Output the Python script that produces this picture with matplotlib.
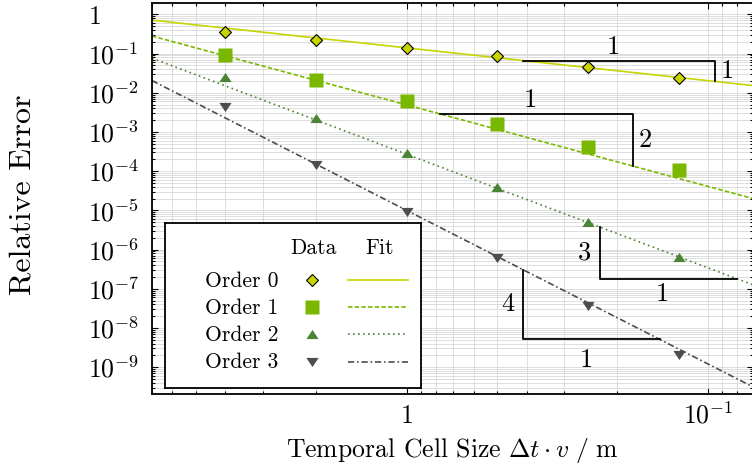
import numpy as np
import matplotlib
matplotlib.use('Agg')
import matplotlib.pyplot as plt
from matplotlib.ticker import LogLocator, FuncFormatter, NullFormatter

plt.rcParams['font.family'] = 'cmr10'
plt.rcParams['mathtext.fontset'] = 'cm'
plt.rcParams['axes.formatter.use_mathtext'] = True
plt.rcParams['lines.scale_dashes'] = False

# measured data
cell_size = [4, 2, 1, 0.5, 0.25, 0.125]
err_order0 = [0.347, 0.217, 0.141, 0.0863, 0.0453, 0.0237]
err_order1 = [0.090, 0.0207, 0.00614, 0.00159, 4.1e-4, 1.07e-4]
err_order2 = [0.0248, 2.26e-3, 2.93e-4, 3.9e-5, 4.97e-6, 6.4e-7]
err_order3 = [4.27e-3, 1.4e-4, 9.2e-6, 6.07e-7, 3.6e-8, 2.07e-9]
errors = [err_order0, err_order1, err_order2, err_order3]
names = ['Order 0', 'Order 1', 'Order 2', 'Order 3']

# power-law fits  err = coef * dx**rate
fit_coef = [0.140, 4.9e-3, 2.7e-4, 9.95e-6]
fit_rate = [0.838, 2.08, 2.90, 3.92]

# slope triangles (x extent) and the rate printed next to them
tri_x = [(0.41, 0.095), (0.776, 0.178), (0.229, 0.0805), (0.41, 0.145)]
tri_side = ['above', 'above', 'below', 'below']
tri_label = ['1', '2', '3', '4']
tri_pad = [10, 10, 11, 15]

xlim = (7.0, 0.071)
ylim = (2.06e-10, 1.92)

colors = ['#c8d400', '#7ab800', '#4a8434', '#4d4d4d']
up = [(0, 0.75), (-1, -0.75), (1, -0.75), (0, 0.75)]
down = [(0, -0.75), (-1, 0.75), (1, 0.75), (0, -0.75)]
markers = ['D', 's', up, down]
msizes = [6.4, 9.4, 8.8, 8.8]
medges = ['black', 'none', 'none', 'none']
lstyles = ['-', (0, (3.2, 1.6)), (0, (1.2, 2.4)), (0, (4.5, 2.0, 1.2, 2.0))]

W, H = 752, 469
fig = plt.figure(figsize=(W / 100, H / 100), dpi=100)
ax = fig.add_axes([152 / W, (H - 394) / H, (753 - 152) / W, (394 - 3.3) / H])
ax.set_xscale('log')
ax.set_yscale('log')
ax.set_xlim(*xlim)
ax.set_ylim(*ylim)

xf = np.geomspace(xlim[0], xlim[1], 50)
for k in range(4):
    ax.plot(xf, fit_coef[k] * xf ** fit_rate[k], color=colors[k], ls=lstyles[k],
            lw=1.2, zorder=2)
    ax.plot(cell_size, errors[k], ls='none', marker=markers[k], ms=msizes[k],
            mfc=colors[k], mec=medges[k], mew=0.8, zorder=3)

# slope triangles
for k in range(4):
    xa, xb = tri_x[k]
    ya = fit_coef[k] * xa ** fit_rate[k]
    yb = fit_coef[k] * xb ** fit_rate[k]
    xm = np.sqrt(xa * xb)
    ym = np.sqrt(ya * yb)
    if tri_side[k] == 'above':
        ax.plot([xa, xb, xb], [ya, ya, yb], color='black', lw=1.3, zorder=4)
        ax.annotate('1', (xm, ya), xytext=(-4, tri_pad[k]), textcoords='offset points',
                    ha='center', va='center', fontsize=19)
        ax.annotate(tri_label[k], (xb, ym), xytext=(9, 0), textcoords='offset points',
                    ha='center', va='center', fontsize=19)
    else:
        ax.plot([xa, xa, xb], [ya, yb, yb], color='black', lw=1.3, zorder=4)
        ax.annotate('1', (xm, yb), xytext=(-4, -tri_pad[k]), textcoords='offset points',
                    ha='center', va='center', fontsize=19)
        ax.annotate(tri_label[k], (xa, ym), xytext=(-11, 0), textcoords='offset points',
                    ha='center', va='center', fontsize=19)


def fmt(v, pos):
    e = int(round(np.log10(v)))
    return '$1$' if e == 0 else r'$10^{%d}$' % e


for axis in (ax.xaxis, ax.yaxis):
    axis.set_major_locator(LogLocator(base=10, numticks=30))
    axis.set_minor_locator(LogLocator(base=10, subs=np.arange(2, 10), numticks=30))
    axis.set_major_formatter(FuncFormatter(fmt))
    axis.set_minor_formatter(NullFormatter())

ax.grid(True, which='both', color='#d8d8d8', lw=0.6)
ax.set_axisbelow(True)
ax.tick_params(which='both', direction='in', top=True, right=True, width=0.8,
               labelsize=18.5)
ax.tick_params(which='major', length=4.5)
ax.tick_params(which='minor', length=2.5)
ax.tick_params(axis='y', pad=46)
ax.tick_params(axis='x', pad=21)
for s in ax.spines.values():
    s.set_linewidth(1.3)
plt.setp(ax.get_yticklabels(), ha='left')
plt.setp(ax.get_xticklabels(), va='baseline')

ax.set_ylabel('Relative Error', fontsize=23)
ax.yaxis.set_label_coords(-0.193, 0.51)
ax.set_xlabel(r'Temporal Cell Size $\Delta t \cdot v\ /\ \mathrm{m}$', fontsize=18.5)
ax.xaxis.set_label_coords(0.5, -0.108)

# legend table
lx0, ly0, lx1, ly1 = 164.5, 223.3, 421, 387.7
lax = fig.add_axes([lx0 / W, (H - ly1) / H, (lx1 - lx0) / W, (ly1 - ly0) / H])
lax.set_xlim(0, lx1 - lx0)
lax.set_ylim(ly1 - ly0, 0)
lax.set_xticks([])
lax.set_yticks([])
for s in lax.spines.values():
    s.set_linewidth(1.3)
lax.text(149.3, 30.7, 'Data', ha='center', va='baseline', fontsize=15.5)
lax.text(215.5, 30.7, 'Fit', ha='center', va='baseline', fontsize=15.5)
for k in range(4):
    yc = 56.7 + 27.2 * k
    lax.text(40.5, yc + 6.5, names[k], ha='left', va='baseline', fontsize=15.5)
    lax.plot([147.2], [yc], ls='none', marker=markers[k], ms=msizes[k],
             mfc=colors[k], mec=medges[k], mew=0.8)
    lax.plot([183.8, 243.8], [yc, yc], color=colors[k], ls=lstyles[k], lw=1.2)

fig.savefig('out.png', dpi=100)
